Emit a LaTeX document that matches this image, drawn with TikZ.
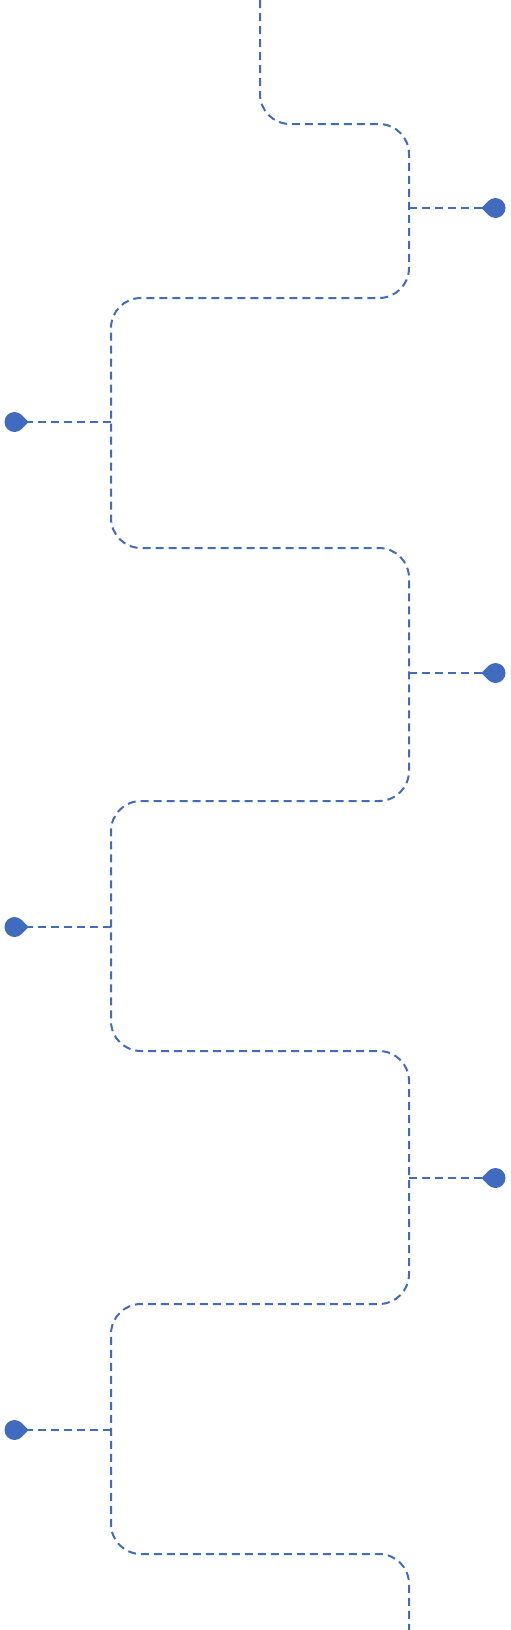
\documentclass[tikz,border=0pt]{standalone}
\usepackage{tikz}
\usetikzlibrary{calc}
\definecolor{trailblue}{RGB}{64,107,190}
\tikzset{
  trail/.style={draw=trailblue, line width=2pt, dash pattern=on 8pt off 5pt},
  bead/.style={circle, fill=trailblue, inner sep=0pt, outer sep=0pt,
               minimum size=20pt},
}

\begin{document}
\begin{tikzpicture}[x=1pt,y=-1pt]
  \useasboundingbox (0,0) rectangle (511,1630);
  % zig-zag trail
  \draw[trail, rounded corners=30pt] (260,0) -- (260,124) -- (409,124)
    -- (409,298) -- (111,298) -- (111,548) -- (409,548) -- (409,801)
    -- (111,801) -- (111,1051) -- (409,1051) -- (409,1304) -- (111,1304)
    -- (111,1554) -- (409,1554) -- (409,1630);
  % pins on the right
  \foreach \n/\y in {1/208,3/673,5/1178} {
    \coordinate (j\n) at (409,\y);
    \node[bead] (p\n) at (495.5,\y) {};
    \draw[trail] (j\n) -- (p\n.west);
    \fill[trailblue] (p\n.136) -- ($(p\n.center)+(-14,0)$) -- (p\n.224) -- cycle;
  }
  % pins on the left
  \foreach \n/\y in {2/422,4/927,6/1430} {
    \coordinate (j\n) at (111,\y);
    \node[bead] (p\n) at (14.5,\y) {};
    \draw[trail] (j\n) -- (p\n.east);
    \fill[trailblue] (p\n.44) -- ($(p\n.center)+(14,0)$) -- (p\n.316) -- cycle;
  }
\end{tikzpicture}
\end{document}
